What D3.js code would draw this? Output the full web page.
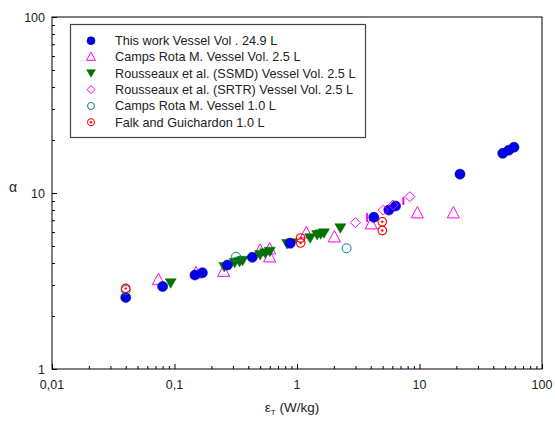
<!DOCTYPE html>
<html>
<head>
<meta charset="utf-8">
<script src="https://cdn.jsdelivr.net/npm/d3@7"></script>
<style>
  html, body { margin: 0; padding: 0; background: #fff; }
  svg { display: block; font-family: Arial, "Liberation Sans", sans-serif; }
</style>
</head>
<body>
<svg id="chart" width="555" height="421"></svg>
<script>
// Energy dissipation rate (W/kg) vs alpha, one array pair per data source
const thisWorkX = [0.04, 0.080, 0.147, 0.169, 0.271, 0.432, 0.88, 4.24, 5.62, 6.38, 21.4, 47.8, 53.5, 59.1];
const thisWorkY = [2.55, 2.94, 3.42, 3.52, 3.90, 4.31, 5.18, 7.28, 8.00, 8.43, 12.8, 16.8, 17.5, 18.2];

const campsRota25X = [0.074, 0.150, 0.252, 0.50, 0.598, 0.598, 1.19, 2.02, 4.03, 9.6, 18.9];
const campsRota25Y = [3.20, 3.50, 3.57, 4.70, 4.79, 4.31, 5.90, 5.60, 6.64, 7.67, 7.67];

const ssmdX = [0.093, 0.255, 0.31, 0.34, 0.36, 0.50, 0.55, 0.60, 0.83, 0.91, 1.28, 1.46, 1.56, 1.66, 2.26];
const ssmdY = [3.07, 3.80, 4.01, 4.06, 4.12, 4.44, 4.54, 4.64, 5.13, 5.18, 5.53, 5.77, 5.82, 5.90, 6.30];

const srtrX = [3.0, 5.06, 6.1, 8.35];
const srtrY = [6.78, 8.00, 8.55, 9.53];
// SRTR error bars: x, low, high
const srtrBarX = [3.74, 7.38];
const srtrBarLo = [6.84, 8.55];
const srtrBarHi = [7.70, 9.49];

const campsRota10X = [0.04, 0.318, 2.54];
const campsRota10Y = [2.81, 4.35, 4.85];

const falkX = [0.04, 1.07, 1.07, 4.97, 4.97];
const falkY = [2.87, 5.55, 5.20, 6.86, 6.12];

const xTickValues = [0.01, 0.1, 1, 10, 100];
const xTickLabels = ["0,01", "0,1", "1", "10", "100"];
const yTickValues = [1, 10, 100];
const yTickLabels = ["1", "10", "100"];

const legendLabels = [
  "This work Vessel Vol . 24.9 L",
  "Camps Rota M. Vessel Vol. 2.5 L",
  "Rousseaux et al. (SSMD) Vessel Vol. 2.5 L",
  "Rousseaux et al. (SRTR) Vessel Vol. 2.5 L",
  "Camps Rota M. Vessel 1.0 L",
  "Falk  and Guichardon 1.0 L"
];

const svg = d3.select("#chart");
const plotL = 52, plotR = 542, plotT = 17, plotB = 369;

const x = d3.scaleLog().domain([0.01, 100]).range([plotL, plotR]);
const y = d3.scaleLog().domain([1, 100]).range([plotB, plotT]);

// minor tick values for each decade
function minorTicks(lo, hi) {
  const out = [];
  for (let d = lo; d < hi * 0.99; d *= 10)
    for (let k = 2; k <= 9; k++) out.push(d * k);
  return out;
}

// plot frame
svg.append("rect")
  .attr("x", plotL).attr("y", plotT)
  .attr("width", plotR - plotL).attr("height", plotB - plotT)
  .attr("fill", "none").attr("stroke", "#000").attr("stroke-width", 1);

// x axis (ticks pointing inward)
const xAxis = svg.append("g").attr("transform", `translate(0,${plotB})`);
xAxis.call(d3.axisTop(x).tickValues(minorTicks(0.01, 100)).tickSize(3).tickFormat(""));
xAxis.call(g => g.select(".domain").remove());
const xMajor = svg.append("g").attr("transform", `translate(0,${plotB})`);
xMajor.call(d3.axisTop(x).tickValues(xTickValues).tickSize(5).tickFormat(""));
xMajor.call(g => g.select(".domain").remove());

svg.append("g").selectAll("text").data(xTickValues).join("text")
  .attr("x", d => x(d)).attr("y", plotB + 20)
  .attr("text-anchor", "middle").attr("font-size", 12.5).attr("fill", "#222")
  .text((d, i) => xTickLabels[i]);

// y axis (ticks pointing inward)
const yAxis = svg.append("g").attr("transform", `translate(${plotL},0)`);
yAxis.call(d3.axisRight(y).tickValues(minorTicks(1, 100)).tickSize(3).tickFormat(""));
yAxis.call(g => g.select(".domain").remove());
const yMajor = svg.append("g").attr("transform", `translate(${plotL},0)`);
yMajor.call(d3.axisRight(y).tickValues(yTickValues).tickSize(5).tickFormat(""));
yMajor.call(g => g.select(".domain").remove());
svg.selectAll("g .tick line").attr("stroke", "#000");

svg.append("g").selectAll("text").data(yTickValues).join("text")
  .attr("x", plotL - 7).attr("y", d => y(d) + 4.5)
  .attr("text-anchor", "end").attr("font-size", 12.5).attr("fill", "#222")
  .text((d, i) => yTickLabels[i]);

// axis titles
svg.append("text").attr("x", 13).attr("y", 192)
  .attr("font-size", 14).attr("fill", "#222").attr("text-anchor", "middle")
  .text("α");
const xt = svg.append("text").attr("x", 292).attr("y", 412)
  .attr("font-size", 13.5).attr("fill", "#222").attr("text-anchor", "middle");
xt.append("tspan").text("ε");
xt.append("tspan").attr("font-size", 8).attr("dy", 3).text("T");
xt.append("tspan").attr("dy", -3).text(" (W/kg)");

// marker drawing helpers
const sym = {
  circleFilled: (g, r) => g.append("circle").attr("r", r).attr("fill", "#0000ee").attr("stroke", "#00008a").attr("stroke-width", 0.6),
  triUp: (g, s) => g.append("path").attr("d", `M0,${-s*0.62}L${s*0.55},${s*0.42}L${-s*0.55},${s*0.42}Z`)
      .attr("fill", "none").attr("stroke", "#ff00ff").attr("stroke-width", 1),
  triDown: (g, s) => g.append("path").attr("d", `M0,${s*0.5}L${s*0.55},${-s*0.45}L${-s*0.55},${-s*0.45}Z`)
      .attr("fill", "#007400").attr("stroke", "#006400").attr("stroke-width", 0.5),
  diamond: (g, s) => g.append("path").attr("d", `M0,${-s}L${s},0L0,${s}L${-s},0Z`)
      .attr("fill", "none").attr("stroke", "#ff00ff").attr("stroke-width", 1),
  circleOpen: (g, r) => g.append("circle").attr("r", r).attr("fill", "none").attr("stroke", "#008080").attr("stroke-width", 1),
  dotCircle: (g, r) => {
    g.append("circle").attr("r", r).attr("fill", "none").attr("stroke", "#ff0000").attr("stroke-width", 1.1);
    g.append("circle").attr("r", 1.2).attr("fill", "#ff0000");
  }
};

function drawSeries(xs, ys, kind, size) {
  const g = svg.append("g");
  xs.forEach((v, i) => {
    const m = g.append("g").attr("transform", `translate(${x(v)},${y(ys[i])})`);
    sym[kind](m, size);
  });
}

drawSeries(campsRota25X, campsRota25Y, "triUp", 11);
drawSeries(ssmdX, ssmdY, "triDown", 10);
drawSeries(thisWorkX, thisWorkY, "circleFilled", 5);
drawSeries(srtrX, srtrY, "diamond", 5);
drawSeries(campsRota10X, campsRota10Y, "circleOpen", 4.5);
drawSeries(falkX, falkY, "dotCircle", 4.3);

// SRTR error bars
svg.append("g").selectAll("line").data(srtrBarX).join("line")
  .attr("x1", d => x(d)).attr("x2", d => x(d))
  .attr("y1", (d, i) => y(srtrBarLo[i])).attr("y2", (d, i) => y(srtrBarHi[i]))
  .attr("stroke", "#ff00ff").attr("stroke-width", 2);

// legend
const lg = svg.append("g");
lg.append("rect").attr("x", 70.5).attr("y", 24.5).attr("width", 295).attr("height", 113)
  .attr("fill", "#fff").attr("stroke", "#444").attr("stroke-width", 1.2);
const legendKinds = ["circleFilled", "triUp", "triDown", "diamond", "circleOpen", "dotCircle"];
const legendSizes = [4, 8, 8, 4, 3.5, 3.4];
legendLabels.forEach((t, i) => {
  const cy = 40.7 + i * 16.3;
  const m = lg.append("g").attr("transform", `translate(91,${cy})`);
  sym[legendKinds[i]](m, legendSizes[i]);
  lg.append("text").attr("x", 115).attr("y", cy + 4.4)
    .attr("font-size", 12.7).attr("fill", "#222").text(t);
});
</script>
</body>
</html>
